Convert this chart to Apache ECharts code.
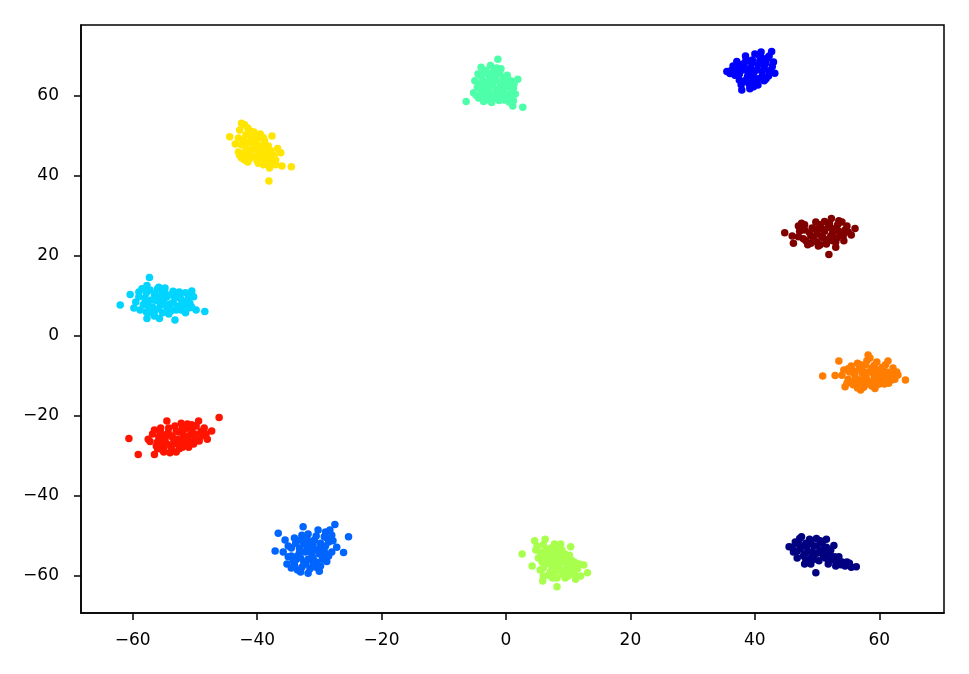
<!DOCTYPE html>
<html>
<head>
<meta charset="utf-8">
<script src="https://cdn.jsdelivr.net/npm/echarts@6/dist/echarts.min.js"></script>
<style>html,body{margin:0;padding:0;background:#fff}#c{width:969px;height:674px}</style>
</head>
<body>
<div id="c"></div>
<script>
var xTicks = [-60, -40, -20, 0, 20, 40, 60];
var yTicks = [-60, -40, -20, 0, 20, 40, 60];

var clusterMint = [[-4.5,65.5],[-3.2,66.4],[-2.0,66.0],[-1.0,65.8],[0.2,65.2],[-5.0,63.8],[-3.8,64.0],[-2.6,64.6],[-1.5,63.9],[-0.3,63.5],[0.8,63.8],[-4.6,62.2],[-3.4,62.5],[-2.2,62.8],[-1.0,62.1],[0.3,62.3],[1.3,63.0],[-5.2,60.8],[-3.9,61.0],[-2.8,61.2],[-1.7,60.6],[-0.5,60.9],[0.9,61.2],[-4.4,59.5],[-3.0,59.7],[-1.9,59.4],[-0.6,59.6],[0.6,59.8],[1.2,58.8],[-3.6,58.6],[-2.3,58.4],[-1.1,58.9],[1.9,64.2],[-1.3,69.2],[-6.4,58.6],[2.7,57.2],[1.1,57.5],[-4.0,67.2],[-2.5,67.6],[-0.8,66.8]];
var clusterMintCore = [[-4.0,65.0],[-2.8,65.3],[-1.6,65.0],[-0.4,64.6],[-4.3,63.0],[-3.1,63.3],[-2.0,63.6],[-0.9,63.0],[0.3,64.2],[-4.0,61.6],[-2.8,61.9],[-1.6,61.6],[-0.4,61.8],[0.6,62.8],[-4.8,60.2],[-3.5,60.4],[-2.3,60.1],[-1.1,60.2],[0.2,60.3],[1.5,60.5],[-2.7,59.0],[-0.2,59.0],[0.5,58.5],[-3.5,66.0],[-1.5,67.0],[1.2,62.0]];
var clusterBlue = [[35.5,66.1],[36.5,67.5],[37.1,68.6],[36.8,65.2],[37.5,64.0],[37.9,61.5],[38.0,66.5],[38.3,68.2],[38.8,64.8],[39.0,63.2],[39.3,67.0],[39.6,69.0],[39.8,65.6],[40.2,62.9],[40.5,67.8],[40.6,64.3],[41.0,69.7],[41.2,66.2],[41.5,63.8],[41.8,68.3],[42.2,65.0],[42.7,71.1],[42.3,70.0],[43.2,65.7],[42.8,67.4],[38.5,70.0],[40.0,70.5],[37.8,62.8],[36.2,66.4],[40.5,62.75],[39.2,61.8],[41.0,71.0]];
var clusterBlueCore = [[36.0,65.6],[37.0,66.8],[37.5,65.5],[38.2,67.3],[38.4,63.8],[38.9,66.0],[39.5,68.2],[39.8,64.2],[40.3,66.5],[40.0,63.8],[40.8,68.8],[41.2,65.0],[41.5,67.4],[42.0,69.5],[42.3,66.3],[41.8,64.3],[39.2,62.5],[38.6,69.2],[37.5,67.8],[40.7,70.2],[43.0,68.5],[39.0,65.2],[39.8,62.3]];
var clusterYellow = [[-42.5,53.2],[-42.8,51.5],[-41.5,52.0],[-44.4,49.8],[-43.0,49.5],[-41.8,50.3],[-40.5,51.0],[-39.5,50.5],[-37.6,50.0],[-42.5,47.8],[-41.2,48.5],[-40.0,49.0],[-38.8,48.8],[-43.0,46.0],[-41.8,46.5],[-40.5,47.2],[-39.3,47.5],[-38.2,47.5],[-36.7,46.9],[-42.5,44.5],[-41.0,45.0],[-39.8,45.8],[-38.5,45.5],[-37.3,45.2],[-41.5,43.5],[-40.0,43.8],[-38.8,44.2],[-37.5,43.5],[-36.0,42.5],[-34.5,42.3],[-38.1,38.75],[-39.0,42.8],[-40.8,49.8],[-42.0,44.0],[-38.0,42.0]];
var clusterYellowCore = [[-42.0,52.8],[-41.0,51.2],[-42.2,49.0],[-40.9,49.5],[-39.8,50.0],[-41.8,47.6],[-40.3,48.2],[-39.0,49.6],[-42.0,45.5],[-40.9,46.5],[-39.8,46.8],[-38.7,46.6],[-37.8,46.3],[-41.2,44.3],[-40.2,44.8],[-39.2,45.0],[-38.0,44.8],[-39.8,43.2],[-38.3,43.3],[-37.0,44.0],[-37.0,42.8],[-43.5,48.0],[-42.8,45.2],[-36.2,45.8]];
var clusterMaroon = [[44.8,25.8],[46.0,25.0],[46.2,23.2],[47.5,28.2],[47.2,26.2],[47.8,24.3],[48.5,22.8],[48.8,25.8],[49.2,27.0],[49.5,24.0],[50.0,25.5],[50.2,22.5],[50.5,27.8],[51.0,24.5],[51.2,26.2],[51.5,23.0],[51.9,20.4],[52.0,28.0],[52.3,29.4],[52.2,25.0],[52.8,26.8],[53.0,23.5],[53.3,27.8],[53.8,25.2],[54.0,28.5],[54.3,23.8],[54.5,26.5],[55.5,25.25],[56.1,26.9],[49.8,28.5],[47.0,27.5],[53.0,22.2]];
var clusterMaroonCore = [[47.0,24.8],[48.0,26.5],[48.2,23.8],[49.0,25.0],[49.8,26.7],[50.0,23.5],[50.7,25.0],[50.8,26.8],[51.5,24.0],[51.8,27.2],[52.5,23.8],[52.5,25.8],[53.2,24.5],[53.5,26.2],[54.2,25.0],[54.8,27.5],[50.5,22.8],[49.0,23.2],[48.0,27.8],[55.0,26.0],[51.2,28.6],[53.5,28.8]];
var clusterCyan = [[-62.0,7.75],[-60.4,10.4],[-59.5,8.5],[-59.0,11.0],[-58.8,6.5],[-57.3,14.6],[-57.7,12.6],[-58.0,9.5],[-57.5,7.5],[-57.7,4.4],[-57.0,5.8],[-56.5,10.5],[-56.2,8.8],[-55.8,6.8],[-55.7,4.4],[-55.2,11.0],[-55.0,9.0],[-54.5,7.2],[-54.2,5.5],[-53.8,10.3],[-53.5,8.3],[-53.2,4.0],[-53.0,6.5],[-52.5,11.0],[-52.2,9.2],[-51.8,7.3],[-51.5,5.8],[-51.0,10.0],[-50.5,11.25],[-50.8,8.2],[-49.8,6.5],[-48.4,6.1],[-59.8,7.0],[-56.0,11.8],[-54.8,12.0]];
var clusterCyanCore = [[-59.0,9.8],[-58.3,7.8],[-57.8,10.8],[-57.0,9.0],[-56.8,7.2],[-56.0,10.0],[-55.5,7.8],[-55.2,5.8],[-54.5,9.8],[-54.0,8.0],[-53.5,11.2],[-52.8,9.8],[-52.8,7.5],[-52.0,8.3],[-51.2,8.8],[-50.5,7.2],[-51.5,10.8],[-56.5,5.0],[-53.8,6.3],[-58.5,11.8],[-50.2,9.8],[-55.8,12.2],[-58.0,8.5],[-57.2,11.5],[-56.5,6.2],[-55.5,9.5],[-54.8,10.8],[-54.0,6.8],[-53.2,9.5],[-52.2,6.5],[-51.0,7.0],[-57.8,6.0],[-52.5,10.2],[-55.0,8.3]];
var clusterOrange = [[50.9,-10.0],[52.9,-9.9],[53.5,-6.25],[54.5,-12.7],[54.3,-8.5],[55.0,-10.8],[55.5,-7.5],[55.8,-12.2],[56.0,-9.5],[56.5,-6.8],[56.8,-11.0],[57.2,-8.3],[57.5,-12.8],[57.8,-9.8],[58.2,-4.75],[58.0,-6.2],[58.5,-11.5],[58.8,-8.0],[59.3,-13.1],[59.2,-10.2],[59.6,-6.5],[60.0,-12.0],[60.3,-8.8],[60.6,-10.8],[61.0,-7.2],[61.4,-6.25],[61.5,-11.8],[61.8,-9.5],[62.2,-8.0],[62.5,-10.8],[63.0,-9.75],[64.2,-11.0],[57.0,-13.5],[55.2,-9.0]];
var clusterOrangeCore = [[54.0,-9.8],[55.0,-8.2],[55.5,-11.5],[56.2,-10.5],[56.8,-8.0],[57.0,-11.8],[57.5,-10.5],[57.8,-7.2],[58.2,-9.0],[58.8,-12.5],[59.0,-9.3],[59.5,-11.2],[59.2,-7.3],[60.2,-10.0],[60.5,-7.8],[60.8,-12.0],[61.2,-9.0],[61.0,-10.5],[62.0,-11.0],[62.8,-9.0],[56.5,-13.0],[58.5,-5.5],[59.8,-8.5],[54.8,-11.8],[56.0,-11.5],[57.2,-9.2],[58.0,-10.8],[58.0,-12.0],[59.5,-12.3],[60.0,-11.0],[60.8,-9.3],[61.5,-10.8],[56.0,-8.8],[57.0,-7.2],[62.0,-9.8],[59.8,-9.8]];
var clusterRed = [[-60.6,-25.6],[-59.1,-29.6],[-57.2,-26.4],[-56.5,-29.6],[-56.8,-24.5],[-56.2,-27.5],[-55.8,-25.2],[-55.5,-23.0],[-55.0,-27.8],[-54.8,-26.0],[-54.5,-21.25],[-54.3,-24.2],[-53.8,-28.2],[-53.5,-25.5],[-53.2,-22.5],[-52.8,-27.0],[-52.5,-24.0],[-52.2,-21.8],[-51.8,-26.0],[-51.5,-23.2],[-51.0,-27.8],[-50.8,-24.8],[-50.5,-22.2],[-50.0,-26.0],[-49.4,-21.25],[-49.3,-26.25],[-49.0,-23.8],[-48.2,-24.5],[-47.3,-23.75],[-46.1,-20.4],[-55.0,-29.0],[-53.0,-29.0],[-57.5,-25.8]];
var clusterRedCore = [[-56.0,-26.5],[-55.5,-24.2],[-55.2,-28.5],[-54.5,-27.0],[-54.2,-23.0],[-53.8,-25.0],[-53.5,-27.0],[-53.0,-23.8],[-52.8,-25.8],[-52.5,-28.2],[-52.0,-23.0],[-51.8,-24.8],[-51.5,-27.0],[-51.2,-22.0],[-50.8,-26.5],[-50.5,-23.5],[-50.0,-24.5],[-49.8,-22.5],[-49.0,-25.0],[-48.5,-23.0],[-56.5,-23.5],[-54.0,-29.2],[-48.0,-25.8],[-56.0,-28.2],[-55.0,-26.2],[-54.8,-24.8],[-53.2,-26.2],[-52.2,-26.8],[-51.5,-25.5],[-50.2,-27.0],[-52.0,-27.8],[-55.8,-27.0]];
var clusterAzure = [[-36.6,-49.3],[-37.1,-53.75],[-35.5,-51.0],[-35.0,-55.2],[-35.2,-57.0],[-34.5,-53.0],[-34.0,-50.5],[-33.8,-56.0],[-33.5,-58.5],[-33.2,-54.2],[-32.6,-47.7],[-32.5,-51.8],[-32.2,-57.0],[-31.8,-59.3],[-31.8,-49.5],[-31.5,-53.5],[-31.0,-55.5],[-30.8,-51.0],[-30.5,-57.8],[-30.2,-48.5],[-30.0,-53.2],[-29.5,-55.8],[-29.2,-50.2],[-29.0,-52.5],[-28.8,-56.4],[-28.3,-48.5],[-28.0,-54.0],[-27.5,-47.1],[-27.8,-51.2],[-26.1,-54.1],[-25.3,-50.2],[-33.0,-59.0],[-34.5,-58.0],[-30.0,-58.8]];
var clusterAzureCore = [[-35.0,-52.5],[-34.5,-55.0],[-34.0,-57.2],[-33.8,-51.8],[-33.2,-53.0],[-33.0,-55.5],[-32.8,-49.8],[-32.5,-56.5],[-32.0,-53.0],[-32.0,-50.5],[-31.5,-58.2],[-31.2,-54.5],[-31.0,-52.2],[-30.5,-50.0],[-30.5,-56.5],[-30.0,-54.5],[-29.8,-51.8],[-29.2,-53.8],[-29.0,-49.0],[-28.5,-55.0],[-28.5,-51.5],[-28.0,-49.8],[-27.2,-52.8],[-35.8,-54.0],[-29.8,-57.5],[-33.5,-55.0],[-32.8,-57.8],[-31.8,-55.8],[-31.0,-57.0],[-33.0,-51.0],[-30.5,-53.5],[-29.5,-52.8],[-31.5,-51.5],[-34.2,-56.2],[-29.0,-54.8],[-28.8,-50.5],[-32.2,-54.0]];
var clusterLime = [[2.6,-54.5],[4.2,-57.5],[4.6,-51.2],[4.8,-53.5],[5.2,-55.5],[5.5,-58.5],[5.9,-61.25],[6.0,-52.2],[6.3,-50.8],[6.3,-54.5],[6.5,-56.8],[6.8,-59.8],[7.0,-53.2],[7.2,-55.5],[7.5,-57.8],[7.8,-52.0],[8.0,-54.5],[8.2,-62.7],[8.2,-60.5],[8.5,-56.5],[8.8,-58.5],[9.0,-53.5],[9.2,-55.5],[9.5,-60.5],[9.8,-57.5],[10.2,-54.8],[10.4,-52.7],[10.5,-59.0],[11.0,-56.5],[11.2,-60.8],[11.5,-58.2],[12.5,-57.25],[13.1,-59.2],[12.0,-60.0]];
var clusterLimeCore = [[5.5,-54.0],[5.8,-56.5],[6.0,-58.0],[6.5,-53.5],[6.8,-55.5],[7.0,-57.0],[7.2,-58.8],[7.5,-54.2],[7.8,-56.2],[8.2,-53.0],[8.5,-55.0],[8.5,-58.0],[9.0,-56.5],[9.0,-59.5],[9.5,-54.5],[9.8,-56.0],[10.0,-58.2],[10.5,-56.0],[10.8,-57.8],[11.0,-59.5],[11.8,-57.0],[7.5,-60.5],[8.8,-52.0],[5.0,-52.5],[6.2,-55.0],[7.0,-59.5],[7.8,-59.0],[8.0,-57.2],[8.8,-54.0],[9.5,-58.5],[10.2,-57.2],[10.0,-60.0],[6.0,-60.0],[7.5,-52.8]];
var clusterNavy = [[45.5,-52.7],[46.2,-54.0],[46.5,-51.5],[47.2,-50.6],[47.3,-53.2],[47.8,-55.0],[48.2,-51.8],[48.5,-53.8],[48.8,-50.8],[49.0,-55.5],[49.5,-52.5],[49.8,-59.2],[49.9,-50.6],[50.0,-54.3],[50.3,-56.2],[50.8,-51.8],[51.0,-53.5],[51.3,-55.5],[51.8,-57.0],[52.0,-54.2],[52.7,-52.4],[52.5,-56.0],[53.0,-57.5],[53.5,-55.2],[54.0,-56.5],[54.5,-57.5],[55.2,-56.8],[55.5,-57.8],[56.3,-57.7],[48.0,-57.0],[46.8,-55.5],[51.5,-50.8]];
var clusterNavyCore = [[46.0,-52.8],[46.8,-53.8],[47.0,-52.0],[47.8,-52.5],[48.0,-54.5],[48.5,-52.2],[49.0,-51.5],[49.2,-54.0],[49.5,-55.8],[50.0,-52.5],[50.5,-53.8],[50.5,-51.2],[51.0,-55.0],[51.5,-52.8],[51.8,-55.8],[52.2,-53.5],[52.8,-55.2],[53.2,-56.5],[53.8,-57.2],[54.8,-56.5],[49.0,-57.0],[48.2,-56.0],[47.5,-50.2]];

var clusterNames = ['navy','blue','azure','cyan','mint','lime','yellow','orange','red','maroon'];
var clusterData = [
  clusterNavy.concat(clusterNavyCore),
  clusterBlue.concat(clusterBlueCore),
  clusterAzure.concat(clusterAzureCore),
  clusterCyan.concat(clusterCyanCore),
  clusterMint.concat(clusterMintCore),
  clusterLime.concat(clusterLimeCore),
  clusterYellow.concat(clusterYellowCore),
  clusterOrange.concat(clusterOrangeCore),
  clusterRed.concat(clusterRedCore),
  clusterMaroon.concat(clusterMaroonCore)
];
var clusterColors = ['#000080','#0000ff','#0064ff','#00d4ff','#4effaa','#a9ff4d','#ffe500','#ff7d00','#ff1400','#800000'];

function fmt(v){ return String(v).replace('-', '\u2212'); }

var chart = echarts.init(document.getElementById('c'), null, {renderer:'canvas'});
chart.setOption({
  animation: false,
  backgroundColor: '#ffffff',
  grid: {left: 81, top: 25, right: 25, bottom: 61, show: true, borderColor: '#000', borderWidth: 1.5, backgroundColor: 'transparent'},
  xAxis: {
    type: 'value', min: -68.3, max: 70.4,
    splitLine: {show: false},
    axisLine: {show: true, onZero: false, lineStyle: {color: '#000', width: 1.5}},
    axisTick: {show: true, length: 7, customValues: xTicks, lineStyle: {color: '#000', width: 1.5}},
    axisLabel: {customValues: xTicks, formatter: fmt, color: '#000', fontFamily: 'DejaVu Sans', fontSize: 17, margin: 19}
  },
  yAxis: {
    type: 'value', min: -69.25, max: 77.75,
    splitLine: {show: false},
    axisLine: {show: true, onZero: false, lineStyle: {color: '#000', width: 1.5}},
    axisTick: {show: true, length: 7, customValues: yTicks, lineStyle: {color: '#000', width: 1.5}},
    axisLabel: {customValues: yTicks, formatter: fmt, color: '#000', fontFamily: 'DejaVu Sans', fontSize: 17, margin: 22}
  },
  series: clusterData.map(function(d, i){
    return {type: 'scatter', name: clusterNames[i], data: d, symbolSize: 7.5,
            itemStyle: {color: clusterColors[i], opacity: 1}};
  })
});
</script>
</body>
</html>
